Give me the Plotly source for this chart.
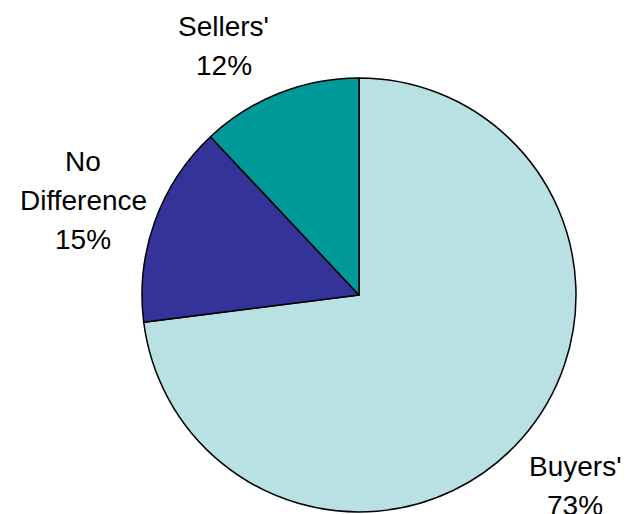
import plotly.graph_objects as go

labels = ["Buyers'", "No Difference", "Sellers'"]
values = [73, 15, 12]
colors = ["#B9E0E3", "#333399", "#009999"]

# label lines as shown next to each slice
label_lines = {
    "Buyers'": ["Buyers'", "73%"],
    "No Difference": ["No", "Difference", "15%"],
    "Sellers'": ["Sellers'", "12%"],
}

off = 8  # page body margin
W, H = 631 - off, 514 - off
cx, cy, r = 359 - off, 295 - off, 217

fig = go.Figure(go.Pie(
    labels=labels,
    values=values,
    marker=dict(colors=colors, line=dict(color="black", width=1.5)),
    sort=False,
    direction="clockwise",
    rotation=0,
    textinfo="none",
    hoverinfo="label+percent",
    showlegend=False,
    domain=dict(x=[(cx - r) / W, (cx + r) / W], y=[(H - cy - r) / H, min(1, (H - cy + r) / H)]),
))

# label anchor (center x, first line center y) and line spacing in px
pos = {
    "Buyers'": (575, 466),
    "No Difference": (83, 161),
    "Sellers'": (224, 26),
}
step = 39

for lab in labels:
    x0, y0 = pos[lab]
    for i, line in enumerate(label_lines[lab]):
        fig.add_annotation(
            x=(x0 - off) / W, y=1 - (y0 - off + i * step) / H,
            xref="paper", yref="paper",
            text=line, showarrow=False,
            xanchor="center", yanchor="middle",
            font=dict(family="Liberation Sans, Arial", size=28, color="black"),
        )

fig.update_layout(
    width=W, height=H,
    margin=dict(l=0, r=0, t=0, b=0),
    paper_bgcolor="white",
    plot_bgcolor="white",
)

fig.write_html("out.html")
